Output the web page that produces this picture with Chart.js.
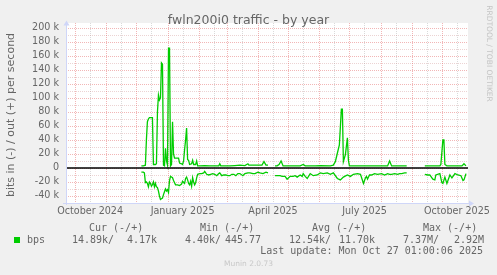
<!DOCTYPE html>
<html>
<head>
<meta charset="utf-8">
<script src="https://cdn.jsdelivr.net/npm/chart.js@4.4.1/dist/chart.umd.min.js"></script>
<style>
  html, body { margin: 0; padding: 0; background: #f0f0f0; }
</style>
</head>
<body>
<canvas id="traffic" width="497" height="275"></canvas>
<script>
// x values are days since Sep 22 2024 (start of the 400 day window)
// out (+) traffic, kbit/s; null = no data
const outDays = [75, 77, 79, 80, 81, 82, 83, 85, 86, 87, 89, 90, 91, 92, 93, 94, 95, 96, 97, 98, 99, 100,
  101, 102, 103, 104, 105, 106, 107, 108, 110, 112, 113, 115, 116, 117, 118, 119, 120, 121, 122, 123, 125,
  126, 127, 129, 130, 131, 133, 138, 143, 148, 152, 153, 154, 158, 163, 168, 173, 178, 181, 182, 188, 195,
  197, 199, 201, 204, 208, 210, 212, 214, 216, 223, 233, 236, 238, 248, 253, 263, 266, 268, 270, 272, 274,
  275, 276, 278, 280, 281, 282, 293, 302, 312, 320, 322, 324, 332, 339, 348, 357, 367, 372, 373, 375, 376,
  377, 379, 387, 394, 396, 398];
const outKbps = [3, 3, 4, 40, 66, 70, 72, 72, 72, 5, 5, 6, 80, 104, 97, 100, 150, 148, 4, 3, 28, 10,
  4, 171, 171, 3, 5, 66, 20, 14, 14, 14, 7, 6, 5, 10, 26, 40, 57, 12, 11, 5, 6,
  11, 5, 5, 10, 3, 3, 3.5, 3, 3, 3, 6, 3, 3, 3, 3.5, 4, 3.5, 6, 4, 4, 4,
  9, 4, 4, null, 3, 3, 5, 10, 3, 3, 3, 5, 3, 3, 3.5, 3, 4, 9, 21, 33, 84,
  84, 9, 19, 43, 11, 3, 3, 3, 3, 3, 10, 3, 3, 3, null, 3, 3, 3, 5, 40, 40,
  5, 3, 3, 3, 6, 3];

// in (-) traffic, kbit/s, drawn below zero
const inDays = [75, 77, 78, 79, 80, 81, 82, 83, 84, 85, 86, 87, 88, 89, 90, 91, 92, 93, 94, 95, 96, 97, 98,
  99, 100, 101, 102, 103, 104, 105, 106, 107, 109, 111, 113, 115, 116, 118, 119, 120, 121, 122, 123, 124,
  125, 126, 127, 128, 129, 130, 131, 133, 135, 137, 138, 140, 142, 144, 146, 148, 150, 152, 153, 155, 157,
  159, 161, 163, 165, 167, 169, 171, 173, 176, 178, 181, 183, 186, 188, 191, 193, 196, 199, 201, 204,
  208, 211, 213, 215, 218, 220, 223, 226, 228, 230, 233, 235, 236, 238, 240, 243, 246, 250, 253, 256,
  260, 263, 266, 270, 273, 276, 280, 283, 286, 290, 293, 296, 298, 299, 300, 302, 304, 307, 310, 314,
  317, 320, 322, 324, 327, 330, 332, 334, 337, 339, 348, 357, 360, 362, 365, 367, 368, 372, 374, 375,
  377, 379, 382, 384, 387, 390, 393, 395, 396, 398];
const inKbps = [6, 6, 7, 21, 20, 22, 27, 20, 22, 26, 24, 20, 27, 22, 27, 28, 33, 40, 45, 44, 43, 38, 34,
  30, 33, 31, 35, 18, 12, 13, 14, 18, 24, 24, 25, 23, 19, 22, 15, 13, 17, 22, 24, 19,
  26, 14, 20, 24, 21, 14, 9, 8, 8, 7, 5, 9, 10, 9, 8, 9, 11, 8, 7, 11, 10,
  10, 11, 11, 9, 9, 11, 8, 8, 11, 8, 7, 7, 8, 8, 6, 7, 8, 6, 7, null,
  11, 11, 11, 12, 12, 16, 12, 12, 11, 13, 10, 12, 8, 12, 15, 8, 11, 10, 7, 8,
  7, 9, 7, 15, 17, 13, 10, 12, 9, 8, 9, 22, 14, 12, 16, 10, 10, 8, 9, 8,
  10, 8, 9, 9, 8, 9, 8, 8, 7, 7, null, 9, 10, 10, 16, 17, 10, 8, 21, 22,
  13, 22, 10, 14, 8, 10, 11, 18, 17, 8];

const monthStartDays = [9, 40, 70, 101, 132, 160, 191, 221, 252, 282, 313, 344, 374];
const midMonthDays = [24, 55, 85, 116, 147, 175, 206, 236, 267, 297, 328, 359, 389];
const xLabels = ['October 2024', 'January 2025', 'April 2025', 'July 2025', 'October 2025'];
const xLabelDays = [24, 116, 206, 297, 389];
const yLabelTicks = [-40, -20, 0, 20, 40, 60, 80, 100, 120, 140, 160, 180, 200];
const yMinorTicks = [-30, -10, 10, 30, 50, 70, 90, 110, 130, 150, 170, 190];

const title = 'fwln200i0 traffic - by year';
const yTitle = 'bits in (-) / out (+) per second';
const legendHeads = ['Cur (-/+)', 'Min (-/+)', 'Avg (-/+)', 'Max (-/+)'];
const legendIn = ['14.89k/', '4.40k/', '12.54k/', '7.37M/'];
const legendOut = ['4.17k', '445.77', '11.70k', '2.92M'];
const lastUpdate = 'Last update: Mon Oct 27 01:00:06 2025';

const GREEN = '#00cc00';
const FONT = '"DejaVu Sans", sans-serif';
const MONO = '"DejaVu Sans Mono", monospace';

function dotted(ctx, x1, y1, x2, y2, color) {
  ctx.strokeStyle = color;
  ctx.beginPath();
  ctx.moveTo(x1, y1);
  ctx.lineTo(x2, y2);
  ctx.stroke();
}

const muninLook = {
  id: 'muninLook',
  beforeDraw(chart) {
    const { ctx, chartArea: a } = chart;
    ctx.save();
    ctx.fillStyle = '#f0f0f0';
    ctx.fillRect(0, 0, chart.width, chart.height);
    ctx.fillStyle = '#ffffff';
    ctx.fillRect(a.left, a.top, a.right - a.left, a.bottom - a.top);
    ctx.restore();
  },
  beforeDatasetsDraw(chart) {
    const { ctx, chartArea: a, scales } = chart;
    ctx.save();
    ctx.lineWidth = 1;
    ctx.setLineDash([1, 1]);
    midMonthDays.forEach(d => {
      const x = Math.round(scales.x.getPixelForValue(d)) + 0.5;
      dotted(ctx, x, a.top, x, a.bottom, 'rgba(150,150,150,0.35)');
    });
    yMinorTicks.forEach(v => {
      const y = Math.round(scales.y.getPixelForValue(v)) + 0.5;
      dotted(ctx, a.left, y, a.right, y, 'rgba(200,130,130,0.35)');
    });
    monthStartDays.forEach(d => {
      const x = Math.round(scales.x.getPixelForValue(d)) + 0.5;
      dotted(ctx, x, a.top, x, a.bottom, 'rgba(224,80,80,0.42)');
    });
    yLabelTicks.forEach(v => {
      const y = Math.round(scales.y.getPixelForValue(v)) + 0.5;
      dotted(ctx, a.left, y, a.right, y, 'rgba(224,80,80,0.42)');
    });
    ctx.restore();
  },
  afterDatasetsDraw(chart) {
    const { ctx, chartArea: a, scales } = chart;
    ctx.save();
    // zero line
    const y0 = Math.round(scales.y.getPixelForValue(0));
    ctx.strokeStyle = '#000000';
    ctx.lineWidth = 1.6;
    ctx.beginPath();
    ctx.moveTo(a.left, y0);
    ctx.lineTo(a.right, y0);
    ctx.stroke();
    // axes with arrows
    ctx.lineWidth = 1;
    ctx.strokeStyle = '#cfd6f8';
    ctx.fillStyle = '#cfd6f8';
    ctx.beginPath();
    ctx.moveTo(a.left + 0.5, a.bottom + 2);
    ctx.lineTo(a.left + 0.5, a.top - 1);
    ctx.moveTo(a.left - 3, a.bottom + 0.5);
    ctx.lineTo(a.right + 2, a.bottom + 0.5);
    ctx.stroke();
    ctx.beginPath();
    ctx.moveTo(a.left + 0.5, a.top - 2.5);
    ctx.lineTo(a.left - 2.5, a.top + 2.5);
    ctx.lineTo(a.left + 3.5, a.top + 2.5);
    ctx.closePath();
    ctx.fill();
    ctx.beginPath();
    ctx.moveTo(a.right + 6, a.bottom + 0.5);
    ctx.lineTo(a.right + 1, a.bottom - 2.5);
    ctx.lineTo(a.right + 1, a.bottom + 3.5);
    ctx.closePath();
    ctx.fill();
    ctx.restore();
  },
  afterDraw(chart) {
    const ctx = chart.ctx;
    ctx.save();
    ctx.fillStyle = '#666666';
    ctx.font = '12.5px ' + FONT;
    ctx.textAlign = 'center';
    ctx.textBaseline = 'alphabetic';
    ctx.fillText(title, 248.5, 24);

    ctx.save();
    ctx.translate(11, 115);
    ctx.rotate(-Math.PI / 2);
    ctx.font = '11px ' + FONT;
    ctx.textBaseline = 'middle';
    ctx.fillText(yTitle, 0, 0);
    ctx.restore();

    ctx.save();
    ctx.translate(488.5, 53.5);
    ctx.rotate(Math.PI / 2);
    ctx.font = '7.5px ' + FONT;
    ctx.fillStyle = '#c4c4c4';
    ctx.textBaseline = 'middle';
    ctx.fillText('RRDTOOL / TOBI OETIKER', 0, 0);
    ctx.restore();

    // legend
    ctx.font = '10px ' + MONO;
    ctx.textBaseline = 'middle';
    ctx.textAlign = 'left';
    const headX = [89, 200, 312, 423];
    const inX = [72, 185, 289, 403];
    const outRight = [157, 261, 375, 484];
    legendHeads.forEach((t, i) => ctx.fillText(t, headX[i], 228));
    legendIn.forEach((t, i) => ctx.fillText(t, inX[i], 240));
    ctx.fillText('bps', 27, 240);
    ctx.textAlign = 'right';
    legendOut.forEach((t, i) => ctx.fillText(t, outRight[i], 240));
    ctx.fillText(lastUpdate, 483, 251);
    ctx.fillStyle = GREEN;
    ctx.fillRect(14, 237, 6, 6);

    ctx.fillStyle = '#c8c8c8';
    ctx.font = '7.5px ' + FONT;
    ctx.textAlign = 'center';
    ctx.fillText('Munin 2.0.73', 248.5, 264);
    ctx.restore();
  }
};

const lineStyle = {
  borderColor: GREEN,
  borderWidth: 1.3,
  pointRadius: 0,
  tension: 0,
  fill: false,
  spanGaps: false
};

new Chart(document.getElementById('traffic'), {
  type: 'line',
  data: {
    datasets: [
      Object.assign({ label: 'out', data: outDays.map((d, i) => ({ x: d, y: outKbps[i] })) }, lineStyle),
      Object.assign({ label: 'in', data: inDays.map((d, i) => ({ x: d, y: inKbps[i] === null ? null : -inKbps[i] })) }, lineStyle)
    ]
  },
  options: {
    responsive: false,
    animation: false,
    devicePixelRatio: 1,
    layout: { padding: { left: 0, right: 29, top: 23, bottom: 0 } },
    plugins: { legend: { display: false }, tooltip: { enabled: false }, title: { display: false } },
    scales: {
      x: {
        type: 'linear', min: 0, max: 400,
        grid: { display: false, drawTicks: false },
        border: { display: false },
        afterFit: s => { s.height = 72; },
        afterBuildTicks: s => { s.ticks = xLabelDays.map(v => ({ value: v })); },
        ticks: {
          autoSkip: false, maxRotation: 0, padding: 3, color: '#666666',
          font: { family: 'DejaVu Sans', size: 9.6 },
          callback: (v, i) => xLabels[i]
        }
      },
      y: {
        min: -50, max: 207,
        grid: { display: false, drawTicks: false },
        border: { display: false },
        afterFit: s => { s.width = 66; },
        afterBuildTicks: s => { s.ticks = yLabelTicks.map(v => ({ value: v })); },
        ticks: {
          padding: 7, color: '#666666',
          font: { family: 'DejaVu Sans', size: 9.6 },
          callback: v => v === 0 ? '0' : v + ' k'
        }
      }
    }
  },
  plugins: [muninLook]
});
</script>
</body>
</html>
